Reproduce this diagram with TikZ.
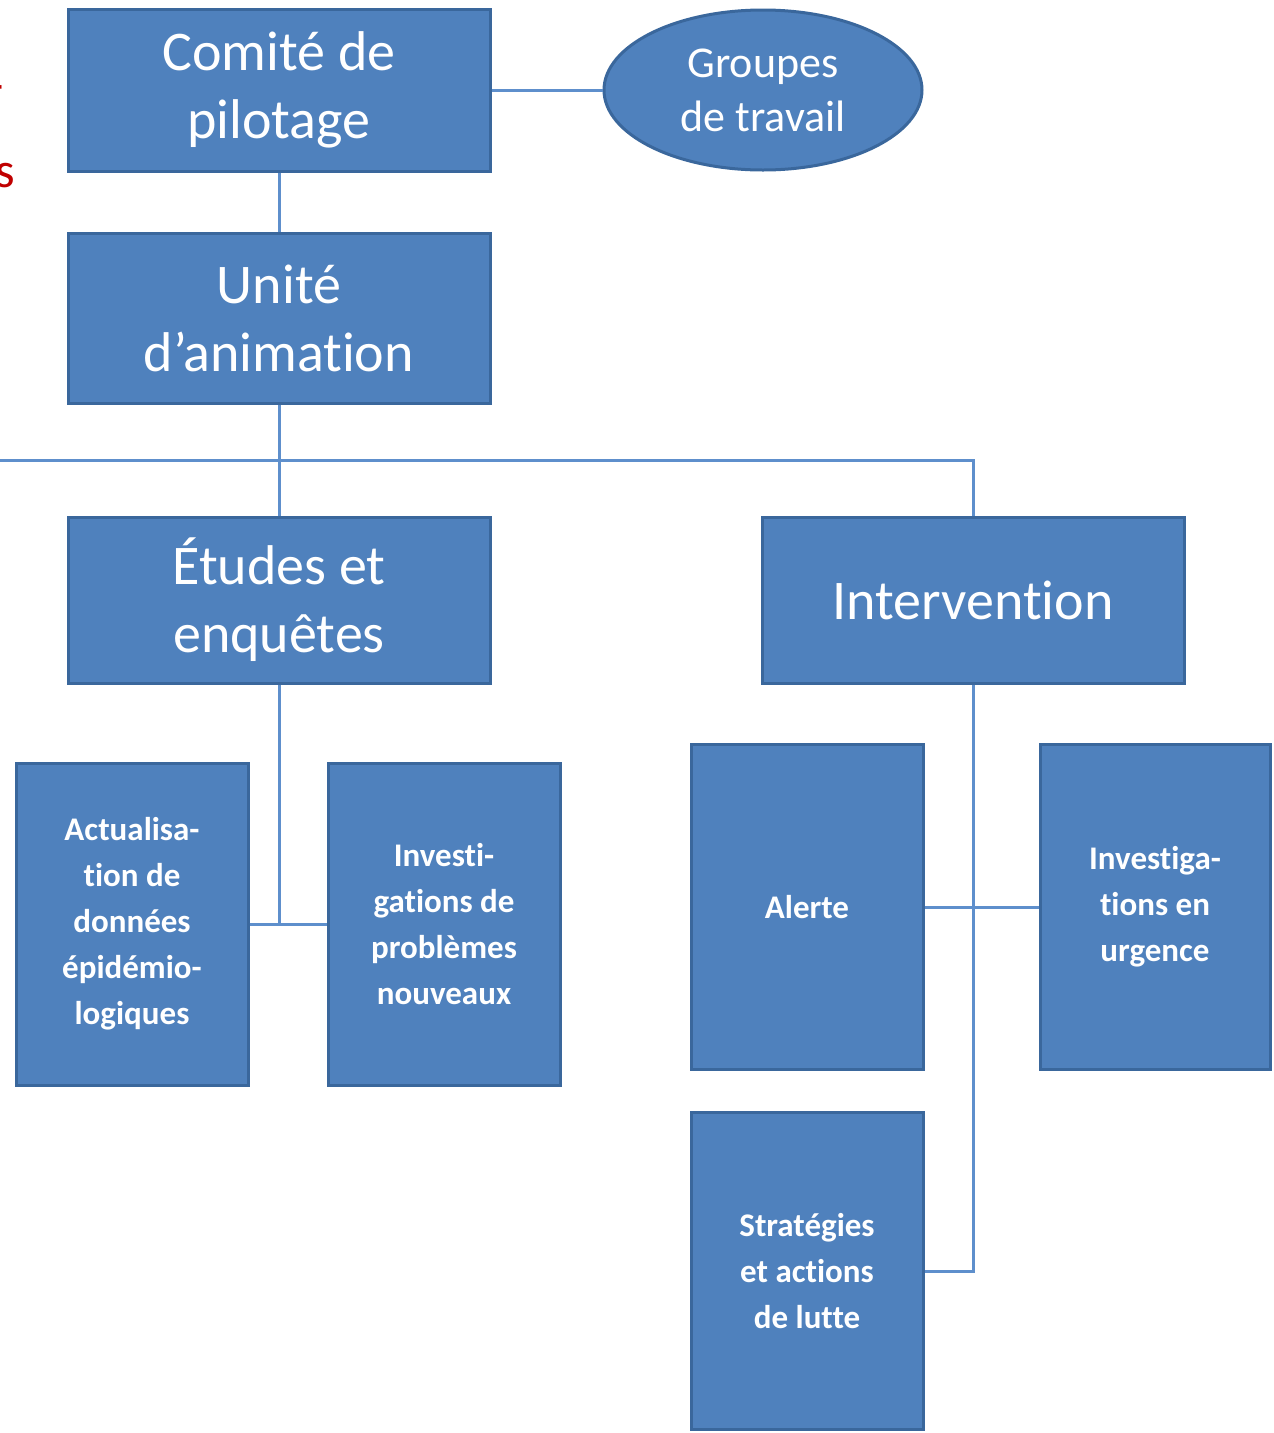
\documentclass[tikz,border=0pt]{standalone}
\usepackage{fontspec}
\setmainfont{Carlito}[Ligatures=NoCommon]
\usetikzlibrary{shapes.geometric}
\definecolor{boxblue}{HTML}{4F81BD}
\definecolor{boxedge}{HTML}{3A679C}
\definecolor{linkblue}{HTML}{5E8FCC}
\definecolor{noteRed}{HTML}{C00000}

\begin{document}
\begin{tikzpicture}[x=1pt, y=-1pt,
		bigbox/.style={rectangle, fill=boxblue, draw=boxedge, line width=3pt, text=white, align=center,
			minimum width=422pt, font=\fontsize{56}{68}\selectfont},
		smallbox/.style={rectangle, fill=boxblue, draw=boxedge, line width=3pt, text=white, align=center,
			minimum width=232pt, minimum height=322pt, font=\fontsize{33}{46}\selectfont\bfseries},
		groupbox/.style={ellipse, fill=boxblue, draw=boxedge, line width=3pt, text=white, align=center,
			minimum width=318pt, minimum height=160pt, inner sep=0pt, font=\fontsize{44}{54}\selectfont},
		cutoff/.style={text=noteRed, inner sep=0pt, anchor=base east, font=\fontsize{50}{50}\selectfont},
		link/.style={line width=3pt, color=linkblue}]
		%%%%% START %%%%%
		
		\useasboundingbox (0, 0) rectangle (1274, 1433);
		
		% bits of text cut off at the left edge
		\node[cutoff] (cutdash) at (4, 101) {-};
		\node[cutoff] (cuts) at (15, 187) {s};
		
		% top level
		\node[bigbox, minimum height=162pt] (comite) at (279, 90) {Comité de\\pilotage};
		\node[groupbox] (groupes) at (763, 90) {Groupes\\de travail};
		\node[bigbox, minimum height=170pt] (unite) at (279, 318) {Unité\\d’animation};
		
		% branches
		\node[bigbox, minimum height=166pt] (etudes) at (279, 600) {Études et\\enquêtes};
		\node[bigbox, minimum height=166pt] (interv) at (973, 600) {Intervention};
		
		% leaves
		\node[smallbox] (actual) at (132, 924) {Actualisa-\\tion de\\données\\épidémio-\\logiques};
		\node[smallbox] (investig) at (444, 924) {Investi-\\gations de\\problèmes\\nouveaux};
		\node[smallbox, minimum height=325pt] (alerte) at (807, 907) {Alerte};
		\node[smallbox, minimum width=230pt, minimum height=325pt] (urgence) at (1155, 907) {Investiga-\\tions en\\urgence};
		\node[smallbox, minimum height=317pt] (strat) at (807, 1271) {Stratégies\\et actions\\de lutte};
		
		% connectors
		\coordinate (bus) at (279, 460);
		\coordinate (busleft) at (0, 460);
		\coordinate (busright) at (interv.north |- bus);
		\coordinate (etudesjoin) at (etudes.south |- actual.east);
		
		\draw[link] (comite.east) -- (groupes.west);
		\draw[link] (comite.south) -- (unite.north);
		\draw[link] (unite.south) -- (bus);
		\draw[link] (busleft) -- (busright) -- (interv.north);
		\draw[link] (bus) -- (etudes.north);
		
		\draw[link] (etudes.south) -- (etudesjoin);
		\draw[link] (actual.east) -- (investig.west);
		
		\draw[link] (interv.south) -- (interv.south |- strat.east) -- (strat.east);
		\draw[link] (alerte.east) -- (urgence.west);
		
		%%%%% END %%%%%
	\end{tikzpicture}
\end{document}
